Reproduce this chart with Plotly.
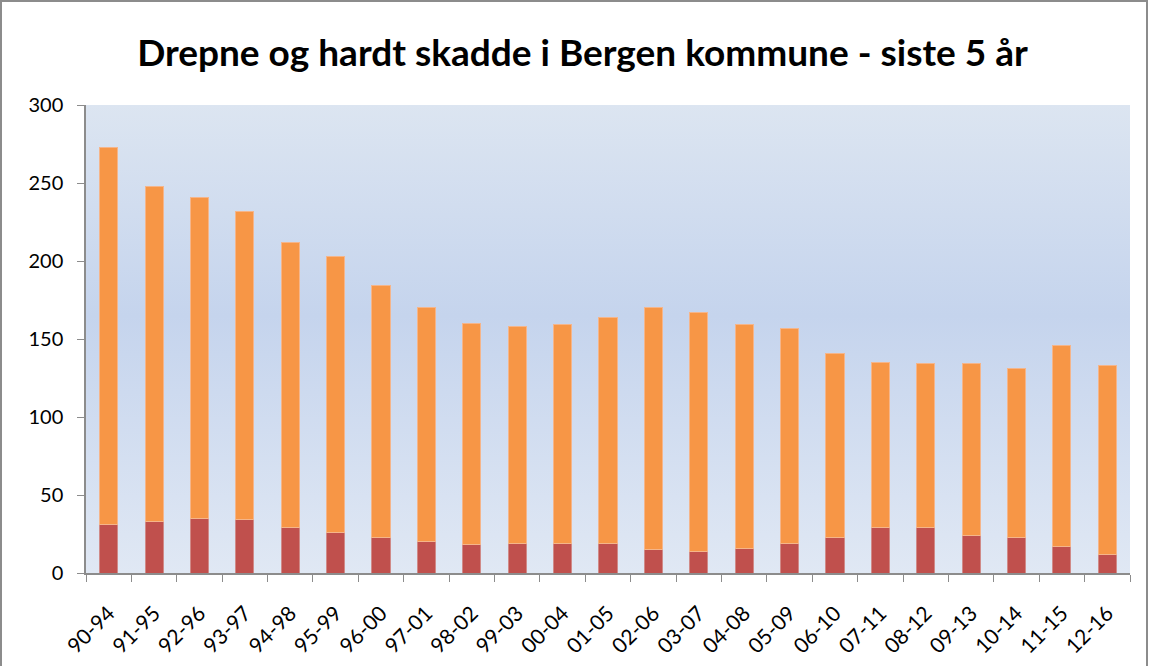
import plotly.graph_objects as go

categories = ["90-94", "91-95", "92-96", "93-97", "94-98", "95-99", "96-00", "97-01",
              "98-02", "99-03", "00-04", "01-05", "02-06", "03-07", "04-08", "05-09",
              "06-10", "07-11", "08-12", "09-13", "10-14", "11-15", "12-16"]
drepte = [31, 33, 35, 34, 29, 26, 23, 20, 18, 19, 19, 19, 15, 14, 16, 19, 23, 29, 29, 24, 23, 17, 12]
hardt_skadde = [242, 215, 206, 198, 183, 177, 161, 150, 142, 139, 140, 145, 155, 153, 143, 138,
                118, 106, 105, 110, 108, 129, 121]
y_ticks = [0, 50, 100, 150, 200, 250, 300]

W, H = 1150, 666
L, R, T, B = 86, 20, 105, 93
pw, ph = W - L - R, H - T - B

fig = go.Figure()

# background gradient on hidden base axes
fig.add_trace(go.Scatter(
    x=[0, 1, 1, 0, 0], y=[0, 0, 1, 1, 0], mode="lines", fill="toself",
    line=dict(width=0), hoverinfo="skip", showlegend=False,
    fillgradient=dict(type="vertical",
                      colorscale=[[0, "#e0e8f4"], [0.55, "#c5d4ed"], [1, "#dce5f1"]]),
    xaxis="x", yaxis="y"))

fig.add_trace(go.Bar(x=categories, y=drepte, name="Drepte",
                     marker=dict(color="#c0504d", line=dict(color="#d08a88", width=1)),
                     xaxis="x2", yaxis="y2"))
fig.add_trace(go.Bar(x=categories, y=hardt_skadde, name="Hardt skadde",
                     marker=dict(color="#f79646", line=dict(color="#f5b58a", width=1)),
                     xaxis="x2", yaxis="y2"))

bx0 = (1 - L) / pw
bx1 = (W - 3 - L) / pw
by0 = (B - (H + 5)) / ph
by1 = (H - B - 1) / ph

fig.update_layout(
    width=W, height=H,
    margin=dict(l=L, r=R, t=T, b=B, autoexpand=False),
    paper_bgcolor="white",
    plot_bgcolor="rgba(0,0,0,0)",
    barmode="stack",
    bargap=0.6,
    showlegend=False,
    title=dict(text="<b>Drepne og hardt skadde i Bergen kommune - siste 5 år</b>",
               x=582.5 / W, xref="container", xanchor="center",
               y=1 - 53 / H, yref="container", yanchor="middle",
               font=dict(family="Lato, Carlito, Calibri, sans-serif", size=37, color="#000000")),
    font=dict(family="Lato, Carlito, Calibri, sans-serif", size=20, color="#000000"),
    xaxis=dict(range=[0, 1], visible=False, fixedrange=True),
    yaxis=dict(range=[0, 1], visible=False, fixedrange=True),
    xaxis2=dict(overlaying="x", anchor="y2", type="category", tickangle=-45,
                showline=True, linecolor="#8c8c8c", linewidth=1.5,
                ticks="outside", ticklen=7, tickcolor="#8c8c8c", tickson="boundaries",
                ticklabelstandoff=18,
                showgrid=False, tickfont=dict(size=21), range=[-0.5, len(categories) - 0.5]),
    yaxis2=dict(overlaying="y", anchor="x2", side="left", range=[0, 300],
                tickvals=y_ticks, showline=True, linecolor="#8c8c8c", linewidth=1.5,
                ticks="outside", ticklen=7, tickcolor="#8c8c8c", ticklabelstandoff=10,
                showgrid=True, gridcolor="#8c9096", gridwidth=1.5, zeroline=False,
                tickfont=dict(size=20)),
    shapes=[dict(type="rect", xref="paper", yref="paper",
                 x0=bx0, x1=bx1, y0=by0, y1=by1,
                 line=dict(color="#8c8c8c", width=2), fillcolor="rgba(0,0,0,0)",
                 layer="above")],
)

fig.write_html("out.html", config={"displayModeBar": False},
               post_script="document.body.style.margin='0';")
